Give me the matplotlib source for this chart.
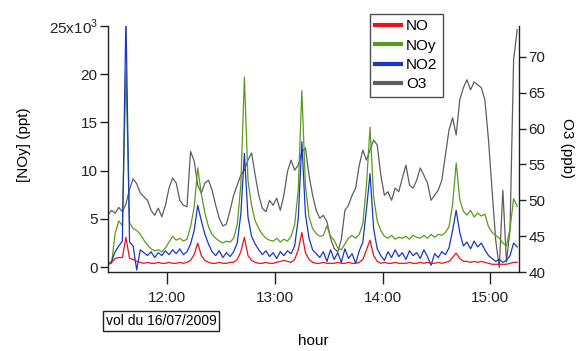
import numpy as np
import pandas as pd
import matplotlib
matplotlib.use("Agg")
import matplotlib.pyplot as plt
import matplotlib.dates as mdates
from matplotlib.ticker import FuncFormatter

plt.rcParams['font.family'] = ['Liberation Sans', 'DejaVu Sans']
plt.rcParams['font.size'] = 11

# flight of 16/07/2009, one reading every 2 minutes from 11:27
no_k = [0.3, 0.5, 0.9, 1.0, 1.0, 3.1, 0.9, 0.8, 0.6, 0.5,
        0.4, 0.5, 0.4, 0.4, 0.5, 0.4, 0.4, 0.5, 0.4, 0.4, 0.5, 0.4, 0.5,
        0.7, 1.3, 2.5, 1.2, 0.7, 0.5,
        0.4, 0.4, 0.5, 0.4, 0.4, 0.5, 0.5,
        0.8, 1.6, 3.1, 1.2, 0.7,
        0.5, 0.4, 0.4, 0.5, 0.4, 0.4, 0.5, 0.6, 0.7, 0.6, 0.5,
        0.8, 1.8, 3.6, 1.5, 0.8,
        0.5, 0.4, 0.4, 0.5, 0.4, 0.4, 0.4, 0.5, 0.4, 0.4, 0.5, 0.4, 0.4, 0.5,
        0.8, 1.8, 2.8, 1.2, 0.6,
        0.4, 0.5, 0.4, 0.4, 0.5, 0.4, 0.4, 0.4, 0.5, 0.4, 0.4, 0.5, 0.4, 0.5, 0.4, 0.4, 0.5, 0.4, 0.5,
        0.6, 1.0, 1.45, 0.9,
        0.6, 0.6, 0.5, 0.6, 0.5, 0.6, 0.5, 0.4, 0.3, 0.3, 0.3, 0.3,
        0.3, 0.4, 0.5, 0.5]

noy_k = [0.3, 0.4, 3.5, 4.8, 4.3, 20.4, 4.6, 4.0, 3.8, 3.4,
         2.8, 2.3, 1.9, 1.7, 1.8, 1.6, 2.0, 2.6, 3.2, 2.8,
         3.0, 2.7, 2.9, 4.2, 6.2, 10.3, 7.6, 5.6, 4.2, 3.4,
         3.0, 2.7, 2.5, 2.7, 2.6, 3.0, 4.4, 8.5, 19.7, 9.0,
         6.4, 4.8, 4.0, 3.4, 3.0, 2.8, 2.7, 3.0, 2.6, 2.9,
         2.7, 3.2, 4.4, 8.0, 18.3, 8.5, 5.2, 4.0, 3.5, 3.2,
         3.3, 4.3, 3.2, 2.8, 2.0, 1.8, 2.4, 3.0, 3.3, 3.0,
         3.4, 4.5, 8.5, 14.5, 7.3, 4.8, 3.8, 3.2, 3.0, 3.3,
         2.9, 3.1, 3.0, 3.2, 2.9, 3.3, 3.1, 3.0, 3.3, 3.0,
         3.4, 3.1, 3.4, 3.3, 3.6, 4.2, 6.5, 10.8, 7.0, 5.8,
         5.4, 5.9, 5.2, 5.6, 5.3, 5.5, 4.2, 3.6, 3.3, 3.0,
         2.5, 2.2, 4.0, 7.1, 6.3]

no2_k = [0.3, 0.6, 1.6, 2.2, 2.7, 26.0, 2.6, 2.2, -0.3, 1.8,
         1.5, 1.2, 1.6, 1.0, 1.5, 1.2, 1.7, 1.3, 1.8, 1.4,
         1.9, 1.3, 1.6, 2.4, 3.8, 6.4, 4.8, 3.4, 2.4, 1.6,
         1.2, 1.7, 1.0, 1.5, 1.1, 1.6, 2.5, 5.5, 11.8, 5.2,
         3.2, 2.4, 1.8, 1.3, 1.7, 1.1, 1.5, 0.9, 1.6, 1.2,
         1.7, 1.4, 2.2, 5.0, 13.0, 5.5, 3.0, 1.8, 1.4, 1.0,
         1.6, 0.6, 1.8, 0.8, 1.5, 0.5, 1.9, 0.9, 1.4, 0.4,
         1.7, 2.6, 6.0, 9.7, 4.0, 1.9, 1.2, 0.7, 1.6, 1.0,
         1.8, 1.1, 1.5, 0.8, 1.7, 1.2, 1.5, 0.9, 1.8, 1.1,
         0.2, 1.4, 1.0, 1.6, 1.3, 2.0, 3.8, 5.9, 3.6, 2.2,
         2.6, 1.9, 2.7, 2.1, 2.5, 1.8, 1.2, 0.9, 0.6, 0.8,
         0.5, 0.7, 1.2, 2.5, 2.1]

o3_ppb = [48.0, 48.6, 48.2, 49.0, 48.4, 49.5, 51.5, 53.0, 52.3, 51.0,
          50.5, 50.0, 48.6, 47.9, 48.9, 47.7, 49.3, 51.7, 53.1, 52.4,
          50.0, 49.3, 49.1, 56.8, 55.5, 52.1, 51.0, 52.4, 52.8, 51.4,
          49.3, 47.5, 46.4, 46.7, 48.6, 50.7, 52.1, 53.5, 54.2, 55.6,
          56.6, 53.5, 50.7, 48.9, 48.4, 50.0, 49.3, 50.3, 48.6, 50.7,
          54.0, 55.6, 54.2, 54.9, 56.7, 57.3, 53.5, 50.7, 48.6, 47.5,
          47.9, 47.0, 44.7, 43.3, 42.8, 44.5, 48.6, 49.3, 50.7, 51.7,
          54.9, 57.0, 55.6, 57.0, 58.4, 57.7, 53.5, 50.7, 51.2, 50.0,
          51.7, 51.2, 53.1, 54.9, 52.1, 51.7, 52.8, 54.5, 53.5, 52.4,
          50.0, 50.7, 51.4, 52.8, 56.3, 59.8, 61.5, 59.1, 64.0, 65.7,
          66.8, 65.4, 66.5, 66.1, 65.7, 64.0, 58.4, 51.4, 44.5, 40.6,
          51.4, 41.4, 45.9, 69.6, 73.8]

series_names = ['NO', 'NOy', 'NO2', 'O3']
series_colors = ['#e8141a', '#5a9b1e', '#1638c4', '#5e5e5e']

times = pd.date_range('2009-07-16 11:27', periods=len(o3_ppb), freq='2min')

fig = plt.figure(figsize=(5.79, 3.51), dpi=100)
ax = fig.add_axes([108/579, 1-272/351, 411/579, 246/351])
ax2 = ax.twinx()
ax2.set_zorder(ax.get_zorder() - 1)
ax.patch.set_visible(False)

l_o3, = ax2.plot(times, o3_ppb, color=series_colors[3], lw=0.9)
l_noy, = ax.plot(times, noy_k, color=series_colors[1], lw=0.9)
l_no2, = ax.plot(times, no2_k, color=series_colors[2], lw=0.9)
l_no, = ax.plot(times, no_k, color=series_colors[0], lw=0.9)

ax.set_xlim(pd.Timestamp('2009-07-16 11:27'), pd.Timestamp('2009-07-16 15:16'))
ax.set_ylim(-0.5, 25)
ax2.set_ylim(40, 74.3)

ax.set_yticks([0, 5, 10, 15, 20, 25])
ax.yaxis.set_major_formatter(FuncFormatter(
    lambda v, p: r'25x10$^{\mathregular{3}}$' if v == 25 else '%d' % v))
ax2.set_yticks([40, 45, 50, 55, 60, 65, 70])
ax.xaxis.set_major_locator(mdates.HourLocator())
ax.xaxis.set_major_formatter(mdates.DateFormatter('%H:%M'))

for s in ['top', 'right']:
    ax.spines[s].set_visible(False)
for s in ['top', 'left', 'bottom']:
    ax2.spines[s].set_visible(False)
for a in (ax, ax2):
    for s in a.spines.values():
        s.set_linewidth(1.0)
        s.set_color('#222222')

ax.tick_params(axis='x', direction='out', length=8.5, width=1, pad=5, colors='#222222')
ax.tick_params(axis='y', direction='out', length=5.5, width=1, pad=2, colors='#222222')
ax2.tick_params(axis='y', direction='out', length=5, width=1, pad=2, colors='#222222')

leg = ax.legend([l_no, l_noy, l_no2, l_o3], series_names, loc='upper left',
                bbox_to_anchor=(0.6375, 1.049), borderaxespad=0, frameon=True,
                fancybox=False, handlelength=1.7, handletextpad=0.3,
                labelspacing=0.35, borderpad=0.35, fontsize=11)
leg.get_frame().set_edgecolor('#222222')
leg.get_frame().set_linewidth(1.0)
for h in leg.legend_handles:
    h.set_linewidth(3)

fig.text(24/579, 1-145/351, '[NOy] (ppt)', rotation=90, ha='center', va='center')
fig.text(567/579, 1-148/351, 'O3 (ppb)', rotation=270, ha='center', va='center')
fig.text(313/579, 1-341/351, 'hour', ha='center', va='center')
fig.text(161/579, 1-321/351, 'vol du 16/07/2009', ha='center', va='center', fontsize=10,
         bbox=dict(boxstyle='square,pad=0.2', fc='white', ec='#222222', lw=1))

fig.savefig('out.png', dpi=100)
